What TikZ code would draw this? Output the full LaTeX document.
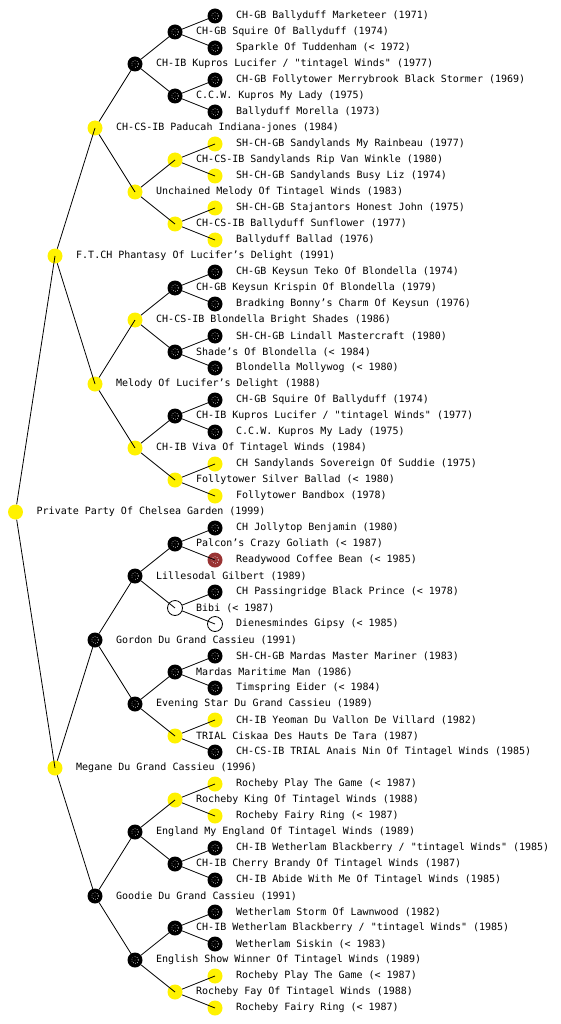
\documentclass[tikz,border=0pt]{standalone}
\usepackage{fontspec}
\setmonofont{DejaVu Sans Mono}
\definecolor{dogred}{RGB}{153,51,51}
\tikzset{
  dog/.style={circle, minimum size=15pt, inner sep=0pt},
  speckle/.style={path picture={\draw[white, dash pattern=on 0.6pt off 1.6pt, line width=0.6pt] (path picture bounding box.center) circle (3.4);
     \fill[white] (path picture bounding box.center) circle (0.4);}},
  blk/.style={dog, fill=black, speckle},
  ylw/.style={dog, fill=yellow},
  red/.style={dog, fill=dogred, speckle},
  wht/.style={dog, fill=white, draw=black, line width=0.8pt},
  lbl/.style={anchor=west, inner sep=0pt, font=\ttfamily\fontsize{10}{12}\selectfont},
  edge/.style={draw=black, line width=0.8pt}
}
\newcommand\pdg[5]{\node[#2] (#1) at (#3,#4) {}; \node[lbl] (#1t) at (#3+21,#4) {#5};}
\begin{document}
\begin{tikzpicture}[x=1pt, y=-1pt]
\useasboundingbox[fill=white] (0,0) rectangle (560,1024);
% level 0-1
\pdg{r}{ylw}{15.5}{512}{Private Party Of Chelsea Garden (1999)}
\pdg{r0}{ylw}{55}{256}{F.T.CH Phantasy Of Lucifer’s Delight (1991)}
\pdg{r1}{ylw}{55}{768}{Megane Du Grand Cassieu (1996)}
% level 2
\pdg{r00}{ylw}{95}{128}{CH-CS-IB Paducah Indiana-jones (1984)}
\pdg{r01}{ylw}{95}{384}{Melody Of Lucifer’s Delight (1988)}
\pdg{r10}{blk}{95}{640}{Gordon Du Grand Cassieu (1991)}
\pdg{r11}{blk}{95}{896}{Goodie Du Grand Cassieu (1991)}
% level 3
\pdg{r000}{blk}{135}{64}{CH-IB Kupros Lucifer / "tintagel Winds" (1977)}
\pdg{r001}{ylw}{135}{192}{Unchained Melody Of Tintagel Winds (1983)}
\pdg{r010}{ylw}{135}{320}{CH-CS-IB Blondella Bright Shades (1986)}
\pdg{r011}{ylw}{135}{448}{CH-IB Viva Of Tintagel Winds (1984)}
\pdg{r100}{blk}{135}{576}{Lillesodal Gilbert (1989)}
\pdg{r101}{blk}{135}{704}{Evening Star Du Grand Cassieu (1989)}
\pdg{r110}{blk}{135}{832}{England My England Of Tintagel Winds (1989)}
\pdg{r111}{blk}{135}{960}{English Show Winner Of Tintagel Winds (1989)}
% level 4
\pdg{r0000}{blk}{175}{32}{CH-GB Squire Of Ballyduff (1974)}
\pdg{r0001}{blk}{175}{96}{C.C.W. Kupros My Lady (1975)}
\pdg{r0010}{ylw}{175}{160}{CH-CS-IB Sandylands Rip Van Winkle (1980)}
\pdg{r0011}{ylw}{175}{224}{CH-CS-IB Ballyduff Sunflower (1977)}
\pdg{r0100}{blk}{175}{288}{CH-GB Keysun Krispin Of Blondella (1979)}
\pdg{r0101}{blk}{175}{352}{Shade’s Of Blondella (< 1984)}
\pdg{r0110}{blk}{175}{416}{CH-IB Kupros Lucifer / "tintagel Winds" (1977)}
\pdg{r0111}{ylw}{175}{480}{Follytower Silver Ballad (< 1980)}
\pdg{r1000}{blk}{175}{544}{Palcon’s Crazy Goliath (< 1987)}
\pdg{r1001}{wht}{175}{608}{Bibi (< 1987)}
\pdg{r1010}{blk}{175}{672}{Mardas Maritime Man (1986)}
\pdg{r1011}{ylw}{175}{736}{TRIAL Ciskaa Des Hauts De Tara (1987)}
\pdg{r1100}{ylw}{175}{800}{Rocheby King Of Tintagel Winds (1988)}
\pdg{r1101}{blk}{175}{864}{CH-IB Cherry Brandy Of Tintagel Winds (1987)}
\pdg{r1110}{blk}{175}{928}{CH-IB Wetherlam Blackberry / "tintagel Winds" (1985)}
\pdg{r1111}{ylw}{175}{992}{Rocheby Fay Of Tintagel Winds (1988)}
% level 5
\pdg{r00000}{blk}{215}{16}{CH-GB Ballyduff Marketeer (1971)}
\pdg{r00001}{blk}{215}{48}{Sparkle Of Tuddenham (< 1972)}
\pdg{r00010}{blk}{215}{80}{CH-GB Follytower Merrybrook Black Stormer (1969)}
\pdg{r00011}{blk}{215}{112}{Ballyduff Morella (1973)}
\pdg{r00100}{ylw}{215}{144}{SH-CH-GB Sandylands My Rainbeau (1977)}
\pdg{r00101}{ylw}{215}{176}{SH-CH-GB Sandylands Busy Liz (1974)}
\pdg{r00110}{ylw}{215}{208}{SH-CH-GB Stajantors Honest John (1975)}
\pdg{r00111}{ylw}{215}{240}{Ballyduff Ballad (1976)}
\pdg{r01000}{blk}{215}{272}{CH-GB Keysun Teko Of Blondella (1974)}
\pdg{r01001}{blk}{215}{304}{Bradking Bonny’s Charm Of Keysun (1976)}
\pdg{r01010}{blk}{215}{336}{SH-CH-GB Lindall Mastercraft (1980)}
\pdg{r01011}{blk}{215}{368}{Blondella Mollywog (< 1980)}
\pdg{r01100}{blk}{215}{400}{CH-GB Squire Of Ballyduff (1974)}
\pdg{r01101}{blk}{215}{432}{C.C.W. Kupros My Lady (1975)}
\pdg{r01110}{ylw}{215}{464}{CH Sandylands Sovereign Of Suddie (1975)}
\pdg{r01111}{ylw}{215}{496}{Follytower Bandbox (1978)}
\pdg{r10000}{blk}{215}{528}{CH Jollytop Benjamin (1980)}
\pdg{r10001}{red}{215}{560}{Readywood Coffee Bean (< 1985)}
\pdg{r10010}{blk}{215}{592}{CH Passingridge Black Prince (< 1978)}
\pdg{r10011}{wht}{215}{624}{Dienesmindes Gipsy (< 1985)}
\pdg{r10100}{blk}{215}{656}{SH-CH-GB Mardas Master Mariner (1983)}
\pdg{r10101}{blk}{215}{688}{Timspring Eider (< 1984)}
\pdg{r10110}{ylw}{215}{720}{CH-IB Yeoman Du Vallon De Villard (1982)}
\pdg{r10111}{blk}{215}{752}{CH-CS-IB TRIAL Anais Nin Of Tintagel Winds (1985)}
\pdg{r11000}{ylw}{215}{784}{Rocheby Play The Game (< 1987)}
\pdg{r11001}{ylw}{215}{816}{Rocheby Fairy Ring (< 1987)}
\pdg{r11010}{blk}{215}{848}{CH-IB Wetherlam Blackberry / "tintagel Winds" (1985)}
\pdg{r11011}{blk}{215}{880}{CH-IB Abide With Me Of Tintagel Winds (1985)}
\pdg{r11100}{blk}{215}{912}{Wetherlam Storm Of Lawnwood (1982)}
\pdg{r11101}{blk}{215}{944}{Wetherlam Siskin (< 1983)}
\pdg{r11110}{ylw}{215}{976}{Rocheby Play The Game (< 1987)}
\pdg{r11111}{ylw}{215}{1008}{Rocheby Fairy Ring (< 1987)}
% edges
\foreach \p in {r,r0,r1,r00,r01,r10,r11,r000,r001,r010,r011,r100,r101,r110,r111,
  r0000,r0001,r0010,r0011,r0100,r0101,r0110,r0111,r1000,r1001,r1010,r1011,r1100,r1101,r1110,r1111}{
  \draw[edge] (\p) -- (\p0.center);
  \draw[edge] (\p) -- (\p1.center);
}
\end{tikzpicture}
\end{document}
